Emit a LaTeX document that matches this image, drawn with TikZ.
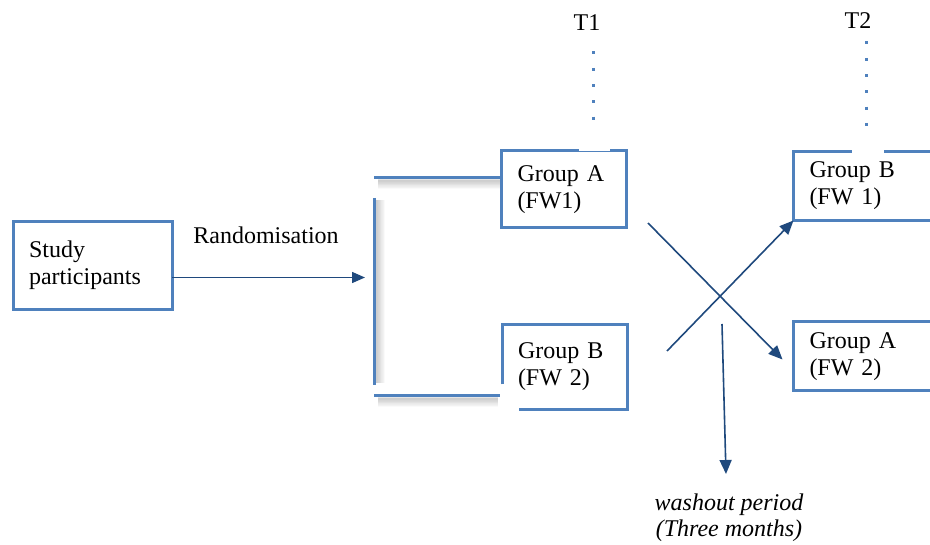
\documentclass[tikz,border=0pt]{standalone}
\usepackage{fontspec}
\setmainfont{Liberation Serif}
\usetikzlibrary{arrows.meta}
\definecolor{boxblue}{RGB}{79,129,189}
\definecolor{arrblue}{RGB}{31,73,125}

\begin{document}
\begin{tikzpicture}[x=1pt,y=-1pt,
  txt/.style={font=\fontsize{24}{27}\selectfont, inner sep=0pt},
  box/.style={txt, draw=boxblue, line width=3pt, rectangle, align=left,
    inner xsep=16pt, inner ysep=0pt, outer sep=0pt, anchor=north west},
  bracketline/.style={draw=boxblue, line width=3pt},
  softshade/.style={draw=black, line width=1.2pt},
  timeline/.style={draw=boxblue, line width=3pt, dash pattern=on 3pt off 13.3pt},
  arr/.style={draw=arrblue, line width=1.6pt, -{Triangle[length=14pt,width=12pt]}},
  thinarr/.style={draw=arrblue, line width=1.4pt, -{Triangle[length=13pt,width=11pt]}}]

\useasboundingbox (0,0) rectangle (930,545);
\clip (0,0) rectangle (930,545);

% boxes
\node[box, minimum width=125pt, minimum height=77pt, text width=93pt] (ga1) at (501.5,151) {Group A\\(FW1)};
\node[box, minimum width=159pt, minimum height=88pt, text width=127pt] (sp) at (13,221.5) {Study\\participants};
\node[box, draw=none, minimum width=125pt, minimum height=85pt, text width=93pt] (gb2) at (502,324.5) {Group B\\(FW 2)};
\node[box, minimum width=170pt, minimum height=69pt, text width=138pt] (gb1r) at (793.5,151.5) {Group B\\(FW 1)};
\node[box, minimum width=170pt, minimum height=69pt, text width=138pt] (ga2r) at (793.5,322) {Group A\\(FW 2)};

% outline of the second group box, open at its lower left corner
\draw[bracketline] ([yshift=25pt]gb2.south west) -- (gb2.north west) -- (gb2.north east)
  -- (gb2.south east) -- ([xshift=17pt]gb2.south west);

% openings in the top edges beneath the time markers
\draw[white, line width=4pt] (579,151) -- (610,151);
\draw[boxblue, line width=1pt] (579,151.8) -- (610,151.8);
\draw[white, line width=4pt] (852,151.5) -- (884,151.5);

% labels
\node[txt] (rand) at (266,235) {Randomisation};
\node[txt] (t1) at (587,23) {T1};
\node[txt] (t2) at (858,21) {T2};
\node[txt, align=center, font=\fontsize{24}{26}\itshape] (wash) at (729,518) {washout period\\(Three months)};

% bracket with soft shadows
\coordinate (brtop) at (374,178);
\coordinate (brbot) at (374,396);
\coordinate (brmid) at (365,278);
\foreach \d/\o in {2/0.10,3/0.10,4/0.09,5/0.08,6/0.07,7/0.05,8/0.04,9/0.03,10/0.02} {
  \draw[softshade, opacity=\o] ([yshift=-\d pt]378,178) -- ([yshift=-\d pt]500,178);
  \draw[softshade, opacity=\o] ([yshift=-\d pt]378,396) -- ([yshift=-\d pt]498,396);
  \draw[softshade, opacity=\o] ([xshift=\d pt]374,200) -- ([xshift=\d pt]374,383);
}
\draw[bracketline] (brtop) -- (ga1.west |- brtop);
\draw[bracketline] (374,198) -- (374,385);
\draw[bracketline] (brbot) -- ([xshift=-2pt]gb2.west |- brbot);

% randomisation arrow
\coordinate (spout) at ([yshift=-12pt]sp.east);
\draw[thinarr] (spout) -- (spout -| brmid);

% time markers
\draw[timeline] (593,51.5) -- (593,125);
\draw[timeline] (866,41.5) -- (866,130);

% crossover
\coordinate (c1) at (648,223);
\coordinate (c2) at (667,351);
\draw[arr] (c1) -- ([shift={(-11,3)}]ga2r.west);
\draw[arr] (c2) -- (gb1r.south west);

% washout period
\coordinate (ws) at (722,324);
\coordinate (we) at (726,474);
\draw[arr] (ws) -- (we);
\end{tikzpicture}
\end{document}
